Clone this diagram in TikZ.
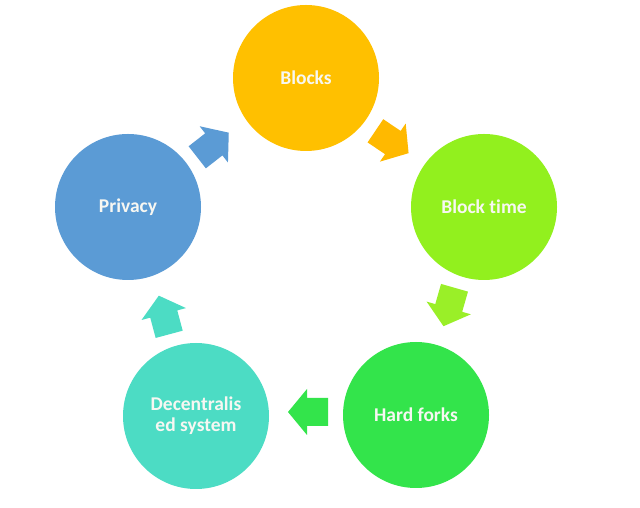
\documentclass[tikz,border=0pt]{standalone}
\usepackage{fontspec}
\setmainfont[Ligatures=NoCommon]{Carlito}
\definecolor{cBlocks}{HTML}{FFC000}
\definecolor{cArrB}{HTML}{FFB900}
\definecolor{cTime}{HTML}{92F01E}
\definecolor{cArrT}{HTML}{9AEF28}
\definecolor{cHard}{HTML}{33E44B}
\definecolor{cDec}{HTML}{4CDCC4}
\definecolor{cPriv}{HTML}{5B9BD5}
\definecolor{cText}{HTML}{F7F7F2}
\tikzset{
  x=1bp, y=1bp,
  stage/.style={circle, minimum size=146bp, inner sep=0pt, align=center,
    text=cText, font=\fontsize{19.5bp}{21bp}\selectfont\bfseries},
  blockarrow/.pic={
    \fill[pic actions] (-20,-14) -- (1,-14) -- (1,-23) -- (20,0) -- (1,23) -- (1,14) -- (-20,14) -- cycle;
  }
}
\begin{document}
\begin{tikzpicture}
\useasboundingbox[fill=white] (0,0) rectangle (640,508);
\node[stage, fill=cBlocks] (blocks) at (306,430) {Blocks};
\node[stage, fill=cTime] (time) at (484,301) {Block time};
\node[stage, fill=cHard] (hard) at (416,93) {Hard forks};
\node[stage, fill=cDec] (dec) at (196,92) {Decentralis\\ed system};
\node[stage, fill=cPriv] (priv) at (128,301) {Privacy};
\pic[fill=cPriv, rotate=38] at (213,363) {blockarrow};
\pic[fill=cArrB, rotate=-34] at (392,366) {blockarrow};
\pic[fill=cArrT, rotate=-106] at (449,201) {blockarrow};
\pic[fill=cHard, rotate=180] at (308,96) {blockarrow};
\pic[fill=cDec, rotate=105] at (164,193) {blockarrow};
\end{tikzpicture}
\end{document}
